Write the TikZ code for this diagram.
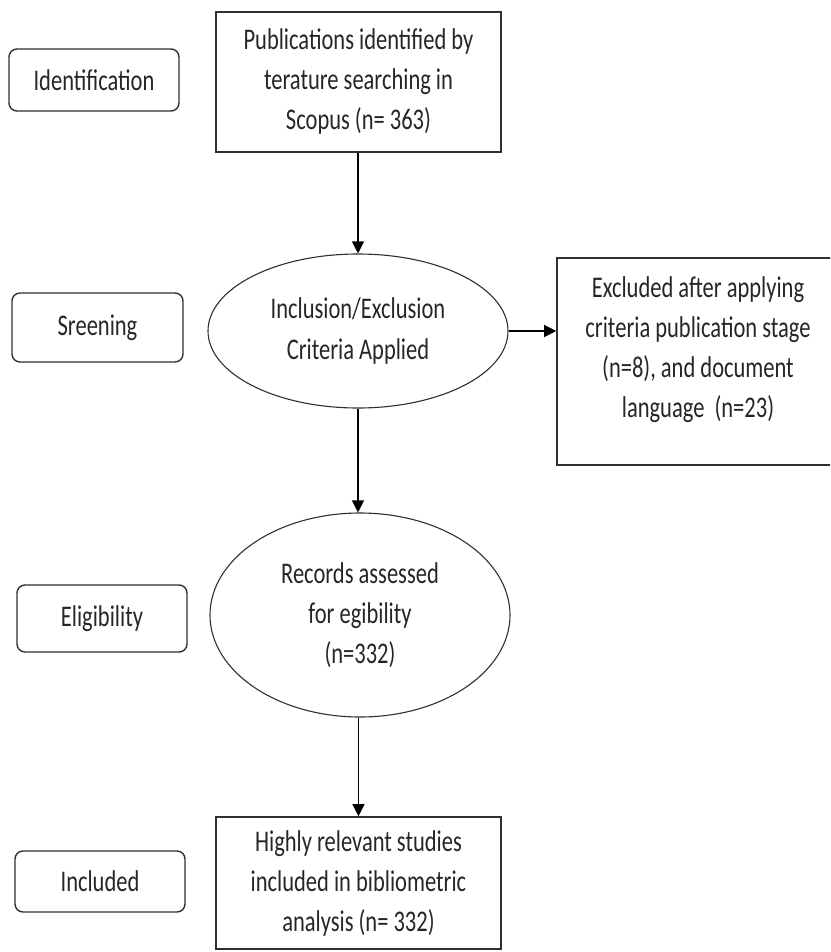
\documentclass[tikz,border=0pt]{standalone}
\usepackage{fontspec}
\setmainfont{Carlito}[FakeStretch=0.75]
\usetikzlibrary{shapes.geometric,arrows.meta}
\definecolor{ink}{HTML}{262626}
\definecolor{edge}{HTML}{303030}
\tikzset{
  txt/.style={font=\fontsize{30}{40}\selectfont, text=ink, align=center, inner sep=0pt},
  stage/.style={txt, draw=edge, line width=1.4pt, rounded corners=8pt},
  stepbox/.style={txt, draw=edge, line width=1.6pt},
  oval/.style={txt, draw=edge, line width=1.1pt, ellipse, inner sep=0pt},
  arr/.style={draw=black, line width=1.2pt, -{Triangle[length=12pt,width=12pt]}}
}
\begin{document}
\begin{tikzpicture}[x=1pt,y=-1pt]
\useasboundingbox (0,0) rectangle (830,952);
\clip (0,0) rectangle (830,952);
% stage labels
\node[stage, minimum width=170pt, minimum height=62pt] (ident) at (94,80) {Identification};
\node[stage, minimum width=171pt, minimum height=69pt] (screen) at (97.5,327.5) {Sreening};
\node[stage, minimum width=170pt, minimum height=67pt] (elig) at (102,618.5) {Eligibility};
\node[stage, minimum width=170pt, minimum height=61pt] (incl) at (100,881.5) {Included};
% main flow
\node[stepbox, minimum width=285pt, minimum height=140pt] (pub) at (358.5,82)
  {Publications identified by\\terature searching in\\Scopus (n= 363)};
\node[oval, minimum width=300pt, minimum height=154pt] (crit) at (358,331)
  {Inclusion/Exclusion\\Criteria Applied};
\node[stepbox, minimum width=282pt, minimum height=207pt] (excl) at (698,361.5) {};
\node[txt] (excltxt) at (698,350)
  {Excluded after applying\\criteria publication stage\\(n=8), and document\\language~~(n=23)};
\node[oval, minimum width=300pt, minimum height=204pt] (rec) at (360,615)
  {Records assessed\\for egibility\\(n=332)};
\node[stepbox, minimum width=285pt, minimum height=132pt] (high) at (358.5,883)
  {Highly relevant studies\\included in bibliometric\\analysis (n= 332)};
% connectors
\draw[arr] (pub.south -| crit.north) -- (crit.north);
\draw[arr] (crit.east) -- (crit.east -| excl.west);
\draw[arr] (crit.south) -- (crit.south |- rec.north);
\draw[arr] (rec.south -| high.north) -- (high.north);
\end{tikzpicture}
\end{document}
